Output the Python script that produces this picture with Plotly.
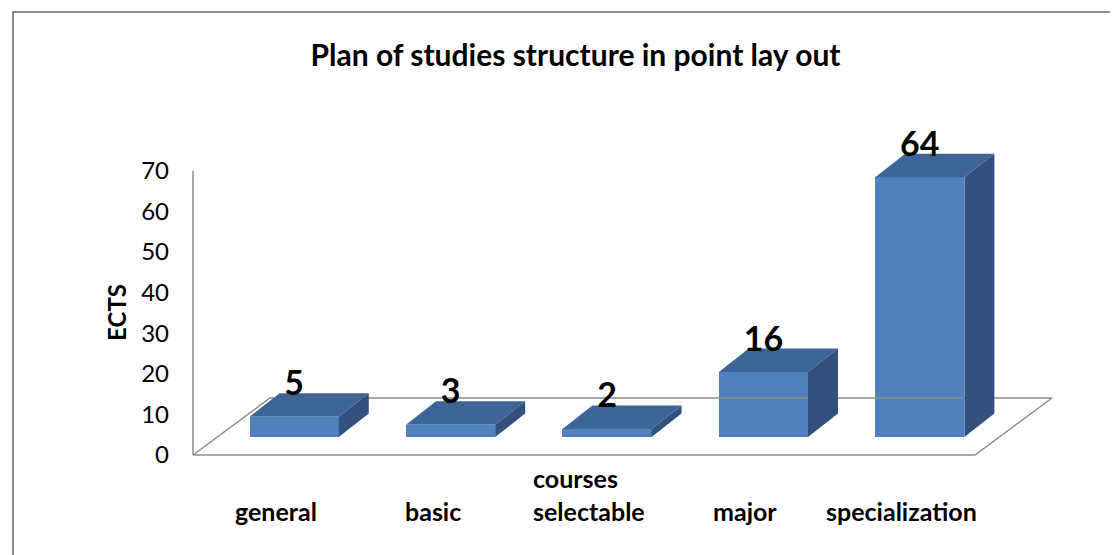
import plotly.graph_objects as go

# ---------------- data ----------------
CATEGORIES = ["general", "basic", "courses<br>selectable", "major", "specialization"]
VALUES = [5, 3, 2, 16, 64]
Y_TICKS = [0, 10, 20, 30, 40, 50, 60, 70]
TITLE = "Plan of studies structure in point lay out"
Y_TITLE = "ECTS"

# ---------------- styling / geometry (3D look) ----------------
FONT = "Lato"
FRONT = "#4F81BD"
TOP = "#3C6496"
SIDE = "#32527D"
EDGE = "#8C8C8C"

OFF = 8  # page body margin compensation


def px(p):
    return p - OFF


PX_X = 156.4   # pixels per category
PX_Y = 4.06    # pixels per value unit
BAR_W = 0.57             # bar width (category units)
BAR_DX = 23 / PX_X       # bar front offset into depth
BAR_B0 = 18 / PX_Y       # bar front baseline (value units)
DDX = 30 / PX_X          # bar depth, x
DDY = 23.5 / PX_Y        # bar depth, y
FLOOR_DX = 77 / PX_X
FLOOR_DY = 57 / PX_Y
LABEL_SHIFT = 5 / PX_X   # small shift of category labels

n = len(CATEGORIES)
W_FIG, H_FIG = 1118, 555
left_px, right_px, top_px, bottom_px = px(183), px(1075), px(105), px(465)
zero_px_x, zero_px_y = px(193), px(455)
x_range = [-0.5 - (zero_px_x - left_px) / PX_X, -0.5 + (right_px - zero_px_x) / PX_X]
y_range = [-(bottom_px - zero_px_y) / PX_Y, (zero_px_y - top_px) / PX_Y]
plot_h = bottom_px - top_px
plot_w = right_px - left_px

fig = go.Figure()

# floor
fx = [-0.5, n - 0.5, n - 0.5 + FLOOR_DX, -0.5 + FLOOR_DX, -0.5]
fy = [0, 0, FLOOR_DY, FLOOR_DY, 0]
fig.add_trace(go.Scatter(x=fx, y=fy, mode="lines", line=dict(color=EDGE, width=1.5),
                         hoverinfo="skip", showlegend=False))
# vertical axis line
fig.add_trace(go.Scatter(x=[-0.5, -0.5], y=[0, max(Y_TICKS)], mode="lines",
                         line=dict(color=EDGE, width=1.5), hoverinfo="skip", showlegend=False))

centers = [i + BAR_DX for i in range(n)]

# front faces
fig.add_trace(go.Bar(x=centers, y=VALUES, base=BAR_B0, width=BAR_W,
                     marker=dict(color=FRONT, line=dict(width=0)), showlegend=False,
                     hovertext=[c.replace("<br>", " ") for c in CATEGORIES], hoverinfo="text+y"))

# top and side faces
tx, ty, sx, sy = [], [], [], []
for c, v in zip(centers, VALUES):
    x0, x1 = c - BAR_W / 2, c + BAR_W / 2
    top = BAR_B0 + v
    tx += [x0, x1, x1 + DDX, x0 + DDX, x0, None]
    ty += [top, top, top + DDY, top + DDY, top, None]
    sx += [x1, x1, x1 + DDX, x1 + DDX, x1, None]
    sy += [BAR_B0, top, top + DDY, BAR_B0 + DDY, BAR_B0, None]
fig.add_trace(go.Scatter(x=tx, y=ty, mode="lines", fill="toself", fillcolor=TOP,
                         line=dict(width=0, color=TOP), hoverinfo="skip", showlegend=False))
fig.add_trace(go.Scatter(x=sx, y=sy, mode="lines", fill="toself", fillcolor=SIDE,
                         line=dict(width=0, color=SIDE), hoverinfo="skip", showlegend=False))

# data labels
fig.add_trace(go.Scatter(x=centers, y=[v + BAR_B0 + DDY + 1.6 for v in VALUES],
                         mode="text", text=[str(v) for v in VALUES], textposition="middle center",
                         textfont=dict(family=FONT, size=34, color="black", weight="bold"),
                         cliponaxis=False, hoverinfo="skip", showlegend=False))

# category labels
for i, cat in enumerate(CATEGORIES):
    fig.add_annotation(x=i + LABEL_SHIFT, xref="x", y=-(px(528) - bottom_px) / plot_h, yref="paper",
                       text=cat, showarrow=False, yanchor="bottom", xanchor="center", align="left",
                       font=dict(family=FONT, size=25, color="black", weight="bold"))

# y axis title
fig.add_annotation(x=(px(117) - left_px) / plot_w, xref="paper", y=35, yref="y", text=Y_TITLE,
                   textangle=-90, showarrow=False, xanchor="center", yanchor="middle",
                   font=dict(family=FONT, size=24, color="black", weight="bold"))

# chart border (left & top visible)
fig.add_shape(type="rect", xref="paper", yref="paper",
              x0=(px(13) - left_px) / plot_w, x1=2, y0=-2, y1=(bottom_px - px(12)) / plot_h,
              line=dict(color="#8C8C8C", width=2), fillcolor="rgba(0,0,0,0)", layer="below")

fig.update_layout(
    width=W_FIG, height=H_FIG,
    margin=dict(l=left_px, r=W_FIG - right_px, t=top_px, b=H_FIG - bottom_px, pad=0),
    paper_bgcolor="white", plot_bgcolor="white",
    title=dict(text=TITLE, x=px(575.5) / W_FIG, xref="container", xanchor="center",
               y=1 - px(55) / H_FIG, yref="container", yanchor="middle",
               font=dict(family=FONT, size=30, color="black", weight="bold")),
    xaxis=dict(range=x_range, showgrid=False, zeroline=False, showline=False,
               showticklabels=False, ticks="", fixedrange=True),
    yaxis=dict(range=y_range, tickvals=Y_TICKS, ticktext=[str(t) for t in Y_TICKS],
               showgrid=False, zeroline=False, showline=False, ticks="",
               ticklabelstandoff=13,
               tickfont=dict(family=FONT, size=24, color="black"), fixedrange=True),
    showlegend=False, bargap=0,
)

fig.write_html("out.html")
